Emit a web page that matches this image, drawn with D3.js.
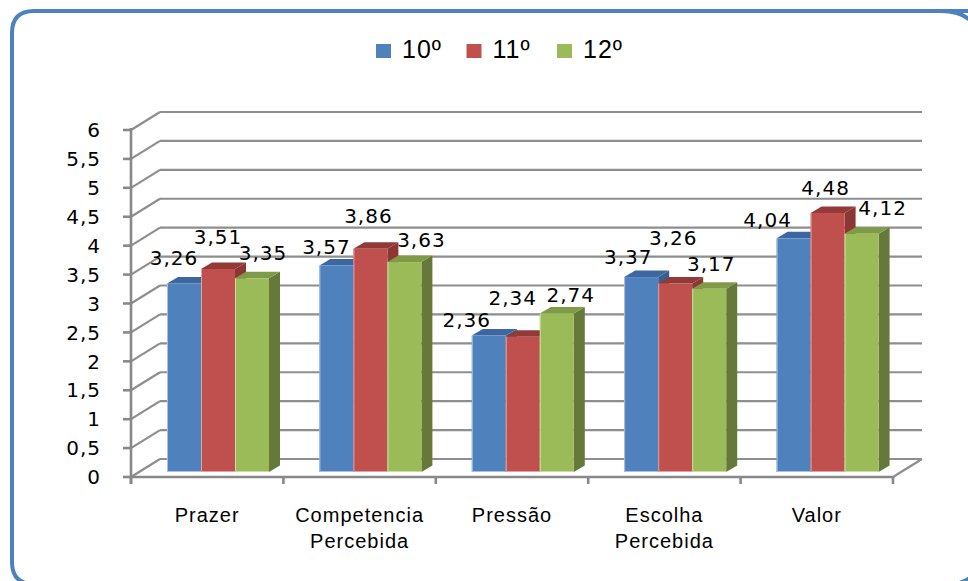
<!DOCTYPE html>
<html><head><meta charset="utf-8">
<script src="https://cdn.jsdelivr.net/npm/d3@7/dist/d3.min.js"></script>
<style>
html,body{margin:0;padding:0;background:#fff;overflow:hidden;}
svg{display:block;}
</style></head>
<body>
<svg id="chart" width="968" height="581"></svg>
<script>
// ---- data ----
const categories = ["Prazer", "Competencia\nPercebida", "Pressão", "Escolha\nPercebida", "Valor"];
const seriesNames = ["10º", "11º", "12º"];
const values10 = [3.26, 3.57, 2.36, 3.37, 4.04];
const values11 = [3.51, 3.86, 2.34, 3.26, 4.48];
const values12 = [3.35, 3.63, 2.74, 3.17, 4.12];
const yTicks = [0, 0.5, 1, 1.5, 2, 2.5, 3, 3.5, 4, 4.5, 5, 5.5, 6];

// ---- layout / style (not data) ----
const seriesValues = [values10, values11, values12];
const colors = [
  {face:"#4f81bd", top:"#3d67a0", side:"#395f8d", edge:"#a9c1e0"},
  {face:"#c0504d", top:"#913a38", side:"#8c3735", edge:"#dca3a1"},
  {face:"#9bbb59", top:"#7f9b47", side:"#67793a", edge:"#c9dca4"}
];
// label nudges (dx, dy) relative to bar front-top center, mimicking Excel 3D label placement
const labelNudge = [
  [[-10,-18],[-10,-12],[-22,-9],[-13,-13],[-26,-11]],
  [[0,-25],[-2,-26],[-10,-32],[-2,-38],[-2,-18]],
  [[11,-18],[17,-15],[14,-12],[2,-18],[21,-19]]
];

const svg = d3.select("#chart");
const wallDX = 29, wallDY = -18;   // back wall offset
const barOX = 11, barOY = -5;      // bar front plane offset
const depDX = 11, depDY = -6.5;    // bar depth

const x = d3.scaleBand().domain(categories).range([131, 893]);
const inner = d3.scaleBand().domain(seriesNames).range([25, 127]);
const y = d3.scaleLinear().domain([0, 6]).range([477, 130]);

// frame (right and bottom edges run off the page, as in the reference)
svg.append("path")
  .attr("d", "M1000,11 L34,11 Q12,11 12,33 L12,562 Q12,584 34,584 L1000,584")
  .attr("fill", "#fff").attr("stroke", "#4f81bd").attr("stroke-width", 4);
svg.append("path")
  .attr("d", "M940,11 Q962,11 972,22")
  .attr("fill", "none").attr("stroke", "#4f81bd").attr("stroke-width", 4);
svg.append("path")
  .attr("d", "M950,584 Q964,584 972,576")
  .attr("fill", "none").attr("stroke", "#4f81bd").attr("stroke-width", 4);

const grid = svg.append("g").attr("stroke", "#8e8e8e").attr("stroke-width", 2.2).attr("fill", "none");
// back wall horizontal gridlines
grid.selectAll("line.h").data(yTicks).join("line")
  .attr("x1", x.range()[0] + wallDX).attr("x2", x.range()[1] + wallDX)
  .attr("y1", d => y(d) + wallDY).attr("y2", d => y(d) + wallDY);
// side wall diagonals
grid.selectAll("line.d").data(yTicks).join("line")
  .attr("x1", x.range()[0]).attr("x2", x.range()[0] + wallDX)
  .attr("y1", d => y(d)).attr("y2", d => y(d) + wallDY);
// floor right edge
grid.append("line").attr("x1", x.range()[1]).attr("y1", y(0))
  .attr("x2", x.range()[1] + wallDX).attr("y2", y(0) + wallDY);

// axes
const ax = svg.append("g").attr("stroke", "#888").attr("stroke-width", 2.6);
ax.append("line").attr("x1", 131).attr("x2", 131).attr("y1", y(6) - 2).attr("y2", y(0) + 7);
ax.append("line").attr("x1", 131).attr("x2", x.range()[1]).attr("y1", y(0)).attr("y2", y(0));
ax.selectAll("line.yt").data(yTicks).join("line")
  .attr("x1", 123).attr("x2", 131).attr("y1", d => y(d)).attr("y2", d => y(d));
const catTicks = categories.map(c => x(c)).concat([x.range()[1]]);
ax.selectAll("line.xt").data(catTicks).join("line")
  .attr("x1", d => d).attr("x2", d => d).attr("y1", y(0)).attr("y2", y(0) + 7);

// y tick labels
const fmt = d => String(d).replace(".", ",");
svg.append("g").selectAll("text").data(yTicks).join("text")
  .attr("x", 101).attr("y", d => y(d)).attr("dy", "0.36em")
  .attr("text-anchor", "end")
  .attr("font-family", "DejaVu Sans, Verdana, sans-serif").attr("font-size", 20)
  .attr("letter-spacing", 1).attr("fill", "#000").text(fmt);

// category labels
const catG = svg.append("g").attr("font-family", "Liberation Sans Narrow, Liberation Sans, Arial, sans-serif")
  .attr("font-size", 20).attr("letter-spacing", 1).attr("fill", "#000").attr("text-anchor", "middle");
categories.forEach(c => {
  const t = catG.append("text").attr("x", x(c) + x.bandwidth() / 2).attr("y", 522);
  c.split("\n").forEach((line, i) => {
    t.append("tspan").attr("x", x(c) + x.bandwidth() / 2).attr("dy", i === 0 ? 0 : 26).text(line);
  });
});

// bars
const bw = inner.bandwidth();
const barsG = svg.append("g");
categories.forEach((c, ci) => {
  seriesNames.forEach((s, si) => {
    const v = seriesValues[si][ci];
    const x0 = x(c) + inner(s) + barOX;
    const x1 = x0 + bw;
    const yt = y(v) + barOY;
    const yb = y(0) + barOY;
    const col = colors[si];
    const g = barsG.append("g");
    g.append("path").attr("fill", col.side)
      .attr("d", `M${x1},${yt}L${x1 + depDX},${yt + depDY}L${x1 + depDX},${yb + depDY}L${x1},${yb}Z`);
    g.append("path").attr("fill", col.top)
      .attr("d", `M${x0},${yt}L${x0 + depDX},${yt + depDY}L${x1 + depDX},${yt + depDY}L${x1},${yt}Z`);
    g.append("rect").attr("x", x0).attr("y", yt).attr("width", bw).attr("height", yb - yt).attr("fill", col.face);
    g.append("line").attr("x1", x0 + 0.5).attr("x2", x0 + 0.5).attr("y1", yt).attr("y2", yb)
      .attr("stroke", col.edge).attr("stroke-width", 1);
    g.append("line").attr("x1", x0).attr("x2", x1).attr("y1", yb - 0.5).attr("y2", yb - 0.5)
      .attr("stroke", col.edge).attr("stroke-width", 1);
  });
});

// value labels
const labG = svg.append("g").attr("font-family", "DejaVu Sans, Verdana, sans-serif")
  .attr("font-size", 20).attr("letter-spacing", 1).attr("fill", "#000").attr("text-anchor", "middle");
categories.forEach((c, ci) => {
  seriesNames.forEach((s, si) => {
    const v = seriesValues[si][ci];
    const cx = x(c) + inner(s) + barOX + bw / 2;
    const cy = y(v) + barOY;
    const n = labelNudge[si][ci];
    labG.append("text").attr("x", cx + n[0]).attr("y", cy + n[1]).text(v.toFixed(2).replace(".", ","));
  });
});

// legend
const leg = svg.append("g");
seriesNames.forEach((s, i) => {
  const lx = 376 + i * 90.5;
  leg.append("rect").attr("x", lx).attr("y", 44).attr("width", 15).attr("height", 14).attr("fill", colors[i].face);
  leg.append("text").attr("x", lx + 26).attr("y", 58)
    .attr("font-family", "Liberation Sans, Arial, sans-serif").attr("font-size", 25)
    .attr("letter-spacing", 1).attr("fill", "#000").text(s);
});
</script>
</body></html>
